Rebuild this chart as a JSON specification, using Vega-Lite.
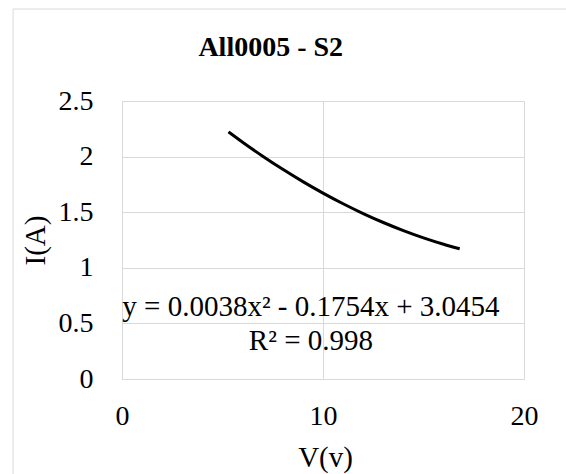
{
  "$schema": "https://vega.github.io/schema/vega-lite/v6.json",
  "autosize": "none",
  "width": 402,
  "height": 278,
  "padding": {"left": 122, "top": 101, "right": 42, "bottom": 95},
  "background": "white",
  "config": {
    "font": "Liberation Serif",
    "view": {"stroke": null},
    "axis": {
      "labelFont": "Liberation Serif",
      "titleFont": "Liberation Serif",
      "labelColor": "#000000",
      "titleColor": "#000000",
      "labelFontSize": 28,
      "titleFontSize": 29,
      "titleFontWeight": "normal",
      "grid": true,
      "gridColor": "#d9d9d9",
      "gridWidth": 1,
      "domainColor": "#d9d9d9",
      "domainWidth": 1,
      "ticks": false,
      "tickSize": 0
    }
  },
  "layer": [
    {
      "data": {"values": [{}]},
      "mark": {"type": "rect", "fillOpacity": 0, "stroke": "#d9d9d9", "strokeWidth": 1, "clip": false},
      "encoding": {
        "x": {"datum": -5.42, "type": "quantitative"},
        "x2": {"datum": 22.5},
        "y": {"datum": 3.327, "type": "quantitative"},
        "y2": {"datum": -1.2}
      }
    },
    {
      "data": {
        "values": [
          {"V": 5.3, "I": 2.2225},
          {"V": 6, "I": 2.1298},
          {"V": 7, "I": 2.0038},
          {"V": 8, "I": 1.8854},
          {"V": 9, "I": 1.7746},
          {"V": 10, "I": 1.6714},
          {"V": 11, "I": 1.5758},
          {"V": 12, "I": 1.4878},
          {"V": 13, "I": 1.4074},
          {"V": 14, "I": 1.3346},
          {"V": 15, "I": 1.2694},
          {"V": 16, "I": 1.2118},
          {"V": 16.8, "I": 1.1712}
        ]
      },
      "mark": {"type": "line", "color": "#000000", "strokeWidth": 3, "interpolate": "monotone"},
      "encoding": {
        "x": {
          "field": "V",
          "type": "quantitative",
          "scale": {"domain": [0, 20], "nice": false, "zero": false},
          "axis": {
            "values": [0, 10, 20],
            "grid": true,
            "title": "V(v)",
            "labelPadding": 37,
            "labelBaseline": "middle",
            "labelFlush": false,
            "titleX": 203,
            "titleY": 78,
            "titleBaseline": "middle",
            "titleAlign": "center"
          }
        },
        "y": {
          "field": "I",
          "type": "quantitative",
          "scale": {"domain": [0, 2.5], "nice": false},
          "axis": {
            "values": [0, 0.5, 1, 1.5, 2, 2.5],
            "format": "~g",
            "grid": true,
            "title": "I(A)",
            "labelPadding": 29,
            "labelBaseline": "middle",
            "labelFlush": false,
            "titleX": -87,
            "titleY": 139,
            "titleBaseline": "middle",
            "titleAlign": "center",
            "titleAngle": -90
          }
        }
      }
    },
    {
      "data": {"values": [{}]},
      "mark": {
        "type": "text",
        "text": ["y = 0.0038x² - 0.1754x + 3.0454", "R² = 0.998"],
        "font": "Liberation Serif",
        "fontSize": 29,
        "fontWeight": "normal",
        "lineHeight": 33.5,
        "align": "center",
        "baseline": "middle",
        "color": "#000000",
        "clip": false
      },
      "encoding": {
        "x": {"datum": 9.4, "type": "quantitative"},
        "y": {"datum": 0.643, "type": "quantitative"}
      }
    },
    {
      "data": {"values": [{}]},
      "mark": {
        "type": "text",
        "text": "All0005 - S2",
        "font": "Liberation Serif",
        "fontSize": 28,
        "fontWeight": "bold",
        "align": "center",
        "baseline": "alphabetic",
        "color": "#000000",
        "clip": false
      },
      "encoding": {
        "x": {"datum": 7.4, "type": "quantitative"},
        "y": {"datum": 2.905, "type": "quantitative"}
      }
    }
  ]
}
